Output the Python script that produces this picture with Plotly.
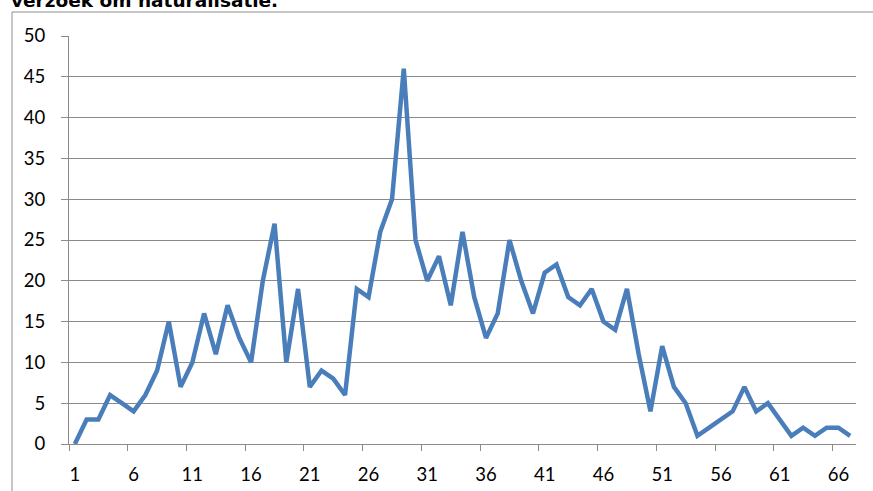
import plotly.graph_objects as go

# Data
categories = list(range(1, 68))
values = [0, 3, 3, 6, 5, 4, 6, 9, 15, 7,
          10, 16, 11, 17, 13, 10, 20, 27, 10, 19,
          7, 9, 8, 6, 19, 18, 26, 30, 46, 25,
          20, 23, 17, 26, 18, 13, 16, 25, 20, 16,
          21, 22, 18, 17, 19, 15, 14, 19, 11, 4,
          12, 7, 5, 1, 2, 3, 4, 7, 4, 5,
          3, 1, 2, 1, 2, 2, 1]
x_tick_labels = [1, 6, 11, 16, 21, 26, 31, 36, 41, 46, 51, 56, 61, 66]
y_ticks = [0, 5, 10, 15, 20, 25, 30, 35, 40, 45, 50]
title_text = "verzoek om naturalisatie."

W, H = 873, 491
L, R, T, B = 69, 17, 36, 47
pw = W - L - R
ph = H - T - B

def px_to_paper_x(px):
    return (px - L) / pw

def py_to_paper_y(py):
    return (H - B - py) / ph

grid = "#8A8A8A"

fig = go.Figure()
fig.add_trace(go.Scatter(
    x=categories, y=values, mode="lines",
    line=dict(color="#4A7EBB", width=4.5),
    hoverinfo="x+y", showlegend=False,
))

fig.update_layout(
    width=W, height=H,
    margin=dict(l=L, r=R, t=T, b=B, pad=0),
    paper_bgcolor="white", plot_bgcolor="white",
    font=dict(family="Lato", size=18, color="#000000"),
    xaxis=dict(
        range=[0.5, len(categories) + 0.5],
        tickmode="array", tickvals=x_tick_labels,
        ticktext=[str(v) for v in x_tick_labels],
        ticks="", showgrid=False, zeroline=False,
        showline=True, linecolor=grid, linewidth=1,
        ticklabelstandoff=14, automargin=False,
        minor=dict(
            tickmode="array",
            tickvals=[v - 0.5 for v in x_tick_labels],
            ticks="outside", ticklen=6, tickcolor=grid, tickwidth=1,
            showgrid=False,
        ),
        tickfont=dict(family="Lato", size=18.5, color="#000000"),
    ),
    yaxis=dict(
        range=[0, 50], tickmode="array", tickvals=y_ticks,
        ticks="outside", ticklen=7, tickcolor=grid, tickwidth=1,
        showgrid=True, gridcolor=grid, gridwidth=1,
        zeroline=False, showline=True, linecolor=grid, linewidth=1,
        ticklabelstandoff=12, automargin=False,
        tickfont=dict(family="Lato", size=18.5, color="#000000"),
    ),
)

# chart area border (extends beyond the visible crop)
fig.add_shape(
    type="rect", xref="paper", yref="paper",
    x0=px_to_paper_x(12), x1=px_to_paper_x(W + 20),
    y0=py_to_paper_y(H + 20), y1=py_to_paper_y(12),
    line=dict(color="#8E8E8E", width=1), fillcolor="rgba(0,0,0,0)",
    layer="below",
)

fig.add_annotation(
    text="<b>" + title_text + "</b>",
    xref="paper", yref="paper",
    x=px_to_paper_x(9), y=py_to_paper_y(13),
    xanchor="left", yanchor="bottom", showarrow=False,
    font=dict(family="DejaVu Sans", size=18.5, color="#000000"),
)

fig.write_html(
    "out.html",
    config={"displayModeBar": False},
    post_script="document.body.style.margin='0';document.body.style.overflow='hidden';",
)
